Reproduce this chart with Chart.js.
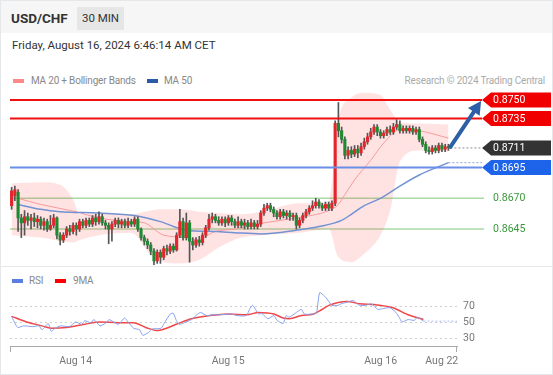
<!DOCTYPE html>
<html>
<head>
<meta charset="utf-8">
<script src="https://cdn.jsdelivr.net/npm/chart.js@4.4.1/dist/chart.umd.min.js"></script>
<style>
  html, body { margin: 0; padding: 0; background: #fff; }
  body { width: 553px; height: 375px; position: relative; overflow: hidden; font-family: Roboto, "Liberation Sans", Arial, sans-serif; }
  #frame { position: absolute; left: 0; top: 0; width: 551px; height: 373px; border: 1px solid #e4e8ea; }
  #header { position: absolute; left: 1px; top: 1px; width: 551px; height: 32px; background: #f6f6f6; }
  #pair { position: absolute; left: 11px; top: 10px; font-size: 13.5px; font-weight: bold; color: #333; }
  #tf { position: absolute; left: 77px; top: 7px; width: 47px; height: 23px; line-height: 23px; background: #e6e6e6; font-size: 11.5px; text-align: center; color: #333; }
  #date { position: absolute; left: 12px; top: 38px; font-size: 11.5px; color: #333; }
  .leg { position: absolute; font-size: 10px; letter-spacing: -0.2px; color: #888; line-height: 12px; }
  .sw { position: absolute; width: 11px; height: 4px; }
  #credit { position: absolute; right: 8px; top: 75px; font-size: 10px; letter-spacing: -0.2px; color: #aaa; line-height: 12px; }
  #sep { position: absolute; left: 1px; top: 266px; width: 551px; height: 1px; background: #e8e8e8; }
  canvas { position: absolute; left: 0; }
  #main { top: 88px; }
  #rsi { top: 284px; }
</style>
</head>
<body>
<div id="frame"></div>
<div id="header"></div>
<div id="pair">USD/CHF</div>
<div id="tf">30 MIN</div>
<div id="date">Friday, August 16, 2024 6:46:14 AM CET</div>

<div class="sw" style="left:13px; top:79px; background:#f88;"></div>
<div class="leg" style="left:31px; top:75px;">MA 20 + Bollinger Bands</div>
<div class="sw" style="left:147px; top:79px; background:#2b5ba6;"></div>
<div class="leg" style="left:164px; top:75px;">MA 50</div>
<div id="credit">Research © 2024 Trading Central</div>

<canvas id="main" width="553" height="177"></canvas>
<div id="sep"></div>

<div class="sw" style="left:12px; top:279px; background:#5b7fe0;"></div>
<div class="leg" style="left:29px; top:275px;">RSI</div>
<div class="sw" style="left:55px; top:279px; background:#f00;"></div>
<div class="leg" style="left:73px; top:275px;">9MA</div>
<canvas id="rsi" width="553" height="88"></canvas>

<script>
/* ============================= */
/*      DATA                     */
/* ============================= */
const opens = [
  .8664,.8672,.8675,.8654,.8650,.8655,.8652,.8654,.8651,.8653,
  .8648,.8651,.8645,.8648,.8654,.8640,.8636,.8640,.8645,.8643,
  .8648,.8645,.8651,.8648,.8652,.8649,.8654,.8651,.8655,.8650,
  .8648,.8645,.8649,.8652,.8649,.8651,.8648,.8651,.8649,.8653,
  .8645,.8638,.8635,.8632,.8627,.8619,.8626,.8622,.8629,.8627,
  .8631,.8628,.8640,.8651,.8638,.8650,.8635,.8632,.8636,.8634,
  .8640,.8646,.8653,.8655,.8652,.8650,.8653,.8650,.8654,.8651,
  .8648,.8651,.8648,.8650,.8647,.8650,.8647,.8649,.8658,.8662,
  .8664,.8661,.8658,.8655,.8659,.8656,.8658,.8655,.8656,.8648,
  .8652,.8656,.8659,.8662,.8664,.8667,.8664,.8662,.8665,.8662,
  .8666,.8731,.8725,.8718,.8705,.8709,.8706,.8710,.8707,.8712,
  .8716,.8720,.8724,.8728,.8724,.8721,.8723,.8726,.8724,.8728,
  .8730,.8725,.8727,.8725,.8727,.8724,.8726,.8718,.8714,.8709,
  .8708,.8711,.8709,.8713,.8710,.8712
];
const closes = [
  .8676,.8677,.8654,.8650,.8655,.8652,.8654,.8651,.8653,.8648,
  .8651,.8645,.8648,.8654,.8640,.8636,.8640,.8645,.8643,.8648,
  .8645,.8651,.8648,.8652,.8649,.8654,.8651,.8655,.8650,.8648,
  .8645,.8649,.8652,.8649,.8651,.8648,.8651,.8649,.8653,.8645,
  .8638,.8635,.8632,.8627,.8619,.8626,.8622,.8629,.8627,.8631,
  .8628,.8640,.8651,.8638,.8650,.8635,.8632,.8636,.8634,.8640,
  .8646,.8653,.8655,.8652,.8650,.8653,.8650,.8654,.8651,.8648,
  .8651,.8648,.8650,.8647,.8650,.8647,.8649,.8658,.8662,.8664,
  .8661,.8658,.8655,.8659,.8656,.8658,.8655,.8656,.8648,.8652,
  .8656,.8659,.8662,.8664,.8667,.8664,.8662,.8665,.8662,.8666,
  .8731,.8725,.8718,.8705,.8709,.8706,.8710,.8707,.8712,.8716,
  .8720,.8724,.8728,.8724,.8721,.8723,.8726,.8724,.8728,.8730,
  .8725,.8727,.8725,.8727,.8724,.8726,.8718,.8714,.8709,.8708,
  .8711,.8709,.8713,.8710,.8712,.8711
];
const highs = [
  .8679,.8680,.8677,.8657,.8660,.8658,.8657,.8658,.8656,.8655,
  .8654,.8653,.8656,.8657,.8655,.8642,.8642,.8647,.8648,.8650,
  .8650,.8653,.8653,.8654,.8654,.8656,.8657,.8659,.8657,.8652,
  .8650,.8651,.8654,.8654,.8653,.8653,.8654,.8653,.8655,.8655,
  .8646,.8640,.8637,.8634,.8629,.8628,.8628,.8631,.8632,.8633,
  .8633,.8642,.8661,.8654,.8658,.8652,.8638,.8638,.8639,.8642,
  .8648,.8657,.8658,.8657,.8655,.8655,.8655,.8656,.8656,.8653,
  .8655,.8653,.8653,.8652,.8653,.8652,.8652,.8660,.8665,.8666,
  .8666,.8663,.8660,.8661,.8661,.8660,.8660,.8658,.8658,.8654,
  .8658,.8661,.8664,.8668,.8670,.8669,.8666,.8667,.8667,.8668,
  .8733,.8748,.8728,.8720,.8712,.8712,.8713,.8713,.8715,.8719,
  .8723,.8727,.8730,.8730,.8726,.8725,.8728,.8729,.8731,.8734,
  .8733,.8729,.8729,.8729,.8729,.8728,.8728,.8720,.8716,.8712,
  .8713,.8713,.8715,.8715,.8714,.8714
];
const lows = [
  .8661,.8668,.8643,.8638,.8640,.8648,.8645,.8647,.8646,.8645,
  .8644,.8643,.8644,.8646,.8637,.8632,.8634,.8638,.8640,.8641,
  .8640,.8643,.8646,.8646,.8647,.8647,.8648,.8649,.8648,.8645,
  .8633,.8635,.8647,.8646,.8646,.8646,.8646,.8647,.8647,.8643,
  .8636,.8632,.8629,.8624,.8616,.8617,.8617,.8620,.8624,.8625,
  .8626,.8627,.8638,.8636,.8636,.8618,.8628,.8630,.8631,.8632,
  .8638,.8644,.8650,.8650,.8648,.8648,.8647,.8648,.8648,.8646,
  .8646,.8646,.8645,.8645,.8645,.8645,.8645,.8647,.8656,.8660,
  .8659,.8655,.8653,.8653,.8654,.8653,.8652,.8652,.8645,.8646,
  .8650,.8654,.8657,.8660,.8662,.8662,.8660,.8660,.8660,.8660,
  .8664,.8720,.8715,.8702,.8702,.8703,.8704,.8703,.8705,.8710,
  .8714,.8718,.8722,.8721,.8719,.8719,.8721,.8722,.8722,.8726,
  .8723,.8723,.8723,.8723,.8722,.8722,.8716,.8712,.8707,.8706,
  .8706,.8707,.8707,.8708,.8708,.8709
];

// moving averages and bands, read at a few candle positions
const ma20Index  = [2, 9, 20, 27, 37, 41, 47, 54, 57, 63, 69, 78, 88, 98, 101, 103, 106, 111, 115, 120, 126, 135];
const ma20Values = [.8670,.8665,.8659,.8654,.8651,.8650,.8640,.8638,.8636,.8643,.8645,.8650,.8654,.8660,.8665,.8673,.8685,.8701,.8715,.8726,.8725,.8719];
const ma50Index  = [2, 9, 15, 27, 38, 46, 54, 63, 69, 77, 88, 95, 102, 105, 109, 114, 120, 126, 135];
const ma50Values = [.8665,.8661,.8659,.8658,.8656,.8651,.8644,.8643,.8642,.8641,.8644,.8647,.8652,.8657,.8664,.8670,.8680,.8689,.8699];
const bandIndex  = [0, 9, 15, 19, 21, 27, 37, 43, 46, 52, 58, 64, 71, 77, 89, 98, 101, 105, 109, 114, 117, 120, 126, 135];
const bandUpper  = [.8682,.8683,.8681,.8669,.8657,.8658,.8657,.8660,.8661,.8661,.8659,.8658,.8657,.8659,.8666,.8667,.8734,.8752,.8756,.8754,.8742,.8732,.8731,.8730];
const bandLower  = [.8640,.8638,.8635,.8634,.8636,.8640,.8642,.8624,.8619,.8617,.8620,.8630,.8638,.8640,.8642,.8645,.8622,.8618,.8625,.8640,.8660,.8700,.8709,.8708];

// key levels
const resistanceLevels = [0.8750, 0.8735];
const pivotLevel = 0.8695;
const supportLevels = [0.8670, 0.8645];
const lastPrice = 0.8711;
const targetLevel = 0.8750;

// RSI panel
const rsiIndex  = [0,2,4,7,9,10,12,13,14,16,19,21,23,24,26,27,29,31,32,35,37,38,40,42,43,45,46,49,50,52,53,54,55,56,59,61,62,64,66,68,72,74,77,78,79,81,82,84,86,87,89,90,91,93,95,96,99,100,101,103,105,107,108,110,112,114,116,118,120,122,124,126,127,128,130,132,133,135];
const rsiValues = [57,43,45,44,45,40,48,38,41,45,44,50,47,51.5,49,53,45,49,53,47,55,51,42,40,33,37,41,42,48,60,61,52,47,48,53,60,62,58,59,59,60,58,58,66,71,60,61,54,58,52,48,58,56,61,66,60,60,62,87,81,71,71,73,75,77,71,71,73,66,67,68,62,56,50,53,52,56,51];
const rsiMaIndex  = [0,5,10,13,18,24,29,35,40,44,48,50,54,59,65,71,77,81,86,89,91,95,99,101,104,110,114,119,125,130,135];
const rsiMaValues = [57,50,45,42,43,47,50,49,49,43,39,41,47,54,58,60,59,62,60,55,54,58,60,64,71,76,73,72,68,59,53];
const rsiTicks = [30, 50, 70];

const dateTickIndex = [21, 71, 121, 141];
const dateLabels = ['Aug 14', 'Aug 15', 'Aug 16', 'Aug 22'];

/* ============================= */
/*      SHARED SETTINGS          */
/* ============================= */
const xMin = -0.5;
const xMax = 146;
const levelEnd = 145.4;          // where level lines stop and tags begin
const lastIndex = closes.length - 1;

const UP = '#e3262b';
const DOWN = '#1f8a32';
const FONT = 'Roboto, "Liberation Sans", Arial, sans-serif';

const toPoints = (xs, ys) => xs.map((x, k) => ({ x: x, y: ys[k] }));

/* ============================= */
/*      MAIN PRICE CHART         */
/* ============================= */
const bodies = opens.map((o, i) => ({ x: i, y: [o, closes[i]] }));
const wicks = lows.map((l, i) => ({ x: i, y: [l, highs[i]] }));

function drawTag(ctx, xTip, y, color, text) {
    const h = 15;
    ctx.fillStyle = color;
    ctx.beginPath();
    ctx.moveTo(xTip, y);
    ctx.lineTo(xTip + 9, y - h / 2);
    ctx.lineTo(551, y - h / 2);
    ctx.lineTo(551, y + h / 2);
    ctx.lineTo(xTip + 9, y + h / 2);
    ctx.closePath();
    ctx.fill();
    ctx.fillStyle = '#fff';
    ctx.font = '10.5px ' + FONT;
    ctx.textBaseline = 'middle';
    ctx.textAlign = 'left';
    ctx.fillText(text, xTip + 11, y + 0.5);
}

const levelsPlugin = {
    id: 'levels',
    beforeDatasetsDraw(chart) {
        const ctx = chart.ctx;
        const xs = chart.scales.x, ys = chart.scales.y;
        const left = chart.chartArea.left;
        const right = xs.getPixelForValue(levelEnd);
        ctx.save();
        supportLevels.forEach(v => {
            const y = ys.getPixelForValue(v);
            ctx.strokeStyle = '#a9d9a4';
            ctx.lineWidth = 1.5;
            ctx.beginPath(); ctx.moveTo(left, y); ctx.lineTo(right + 2, y); ctx.stroke();
        });
        ctx.restore();
    },
    afterDatasetsDraw(chart) {
        const ctx = chart.ctx;
        const xs = chart.scales.x, ys = chart.scales.y;
        const left = chart.chartArea.left;
        const right = xs.getPixelForValue(levelEnd);
        ctx.save();

        // resistance lines
        resistanceLevels.forEach(v => {
            const y = ys.getPixelForValue(v);
            ctx.strokeStyle = '#f01010';
            ctx.lineWidth = 2;
            ctx.beginPath(); ctx.moveTo(left, y); ctx.lineTo(right, y); ctx.stroke();
        });
        // pivot line
        const yp = ys.getPixelForValue(pivotLevel);
        ctx.strokeStyle = '#6b8ee6';
        ctx.lineWidth = 2;
        ctx.beginPath(); ctx.moveTo(left, yp); ctx.lineTo(right, yp); ctx.stroke();

        // last price dotted
        const yl = ys.getPixelForValue(lastPrice);
        ctx.strokeStyle = '#888';
        ctx.lineWidth = 1;
        ctx.setLineDash([2, 2]);
        ctx.beginPath(); ctx.moveTo(xs.getPixelForValue(lastIndex) + 2, yl); ctx.lineTo(right, yl); ctx.stroke();
        ctx.setLineDash([]);

        // tags
        resistanceLevels.forEach(v => drawTag(ctx, right, ys.getPixelForValue(v), '#f00000', v.toFixed(4)));
        drawTag(ctx, right, yl, '#333333', lastPrice.toFixed(4));
        drawTag(ctx, right, yp, '#1d64ea', pivotLevel.toFixed(4));

        // support labels
        ctx.fillStyle = '#3a993a';
        ctx.font = '10.5px ' + FONT;
        ctx.textBaseline = 'middle';
        supportLevels.forEach(v => ctx.fillText(v.toFixed(4), right + 11, ys.getPixelForValue(v) + 0.5));

        // arrow to target
        const x0 = xs.getPixelForValue(lastIndex) + 2, y0 = yl - 1;
        const x1 = right - 1, y1 = ys.getPixelForValue(targetLevel) + 1;
        const ang = Math.atan2(y1 - y0, x1 - x0);
        const hl = 13, hw = 7;
        const bx = x1 - hl * Math.cos(ang), by = y1 - hl * Math.sin(ang);
        ctx.strokeStyle = '#2d5ea8';
        ctx.fillStyle = '#2d5ea8';
        ctx.lineWidth = 4;
        ctx.lineCap = 'round';
        ctx.beginPath(); ctx.moveTo(x0, y0); ctx.lineTo(bx, by); ctx.stroke();
        ctx.beginPath();
        ctx.moveTo(x1, y1);
        ctx.lineTo(bx + hw * Math.sin(ang), by - hw * Math.cos(ang));
        ctx.lineTo(bx - hw * Math.sin(ang), by + hw * Math.cos(ang));
        ctx.closePath();
        ctx.fill();
        ctx.restore();
    }
};

new Chart(document.getElementById('main'), {
    type: 'bar',
    data: {
        datasets: [
            {
                type: 'line', data: toPoints(bandIndex, bandUpper),
                borderWidth: 0, pointRadius: 0, fill: '+1',
                backgroundColor: 'rgba(255, 70, 70, 0.15)',
                cubicInterpolationMode: 'monotone', order: 10
            },
            {
                type: 'line', data: toPoints(bandIndex, bandLower),
                borderWidth: 0, pointRadius: 0, fill: false,
                cubicInterpolationMode: 'monotone', order: 9
            },
            {
                type: 'line', data: toPoints(ma20Index, ma20Values),
                borderColor: '#f79a9a', borderWidth: 1, pointRadius: 0,
                cubicInterpolationMode: 'monotone', order: 5
            },
            {
                type: 'line', data: toPoints(ma50Index, ma50Values),
                borderColor: '#7292d2', borderWidth: 1.5, pointRadius: 0,
                cubicInterpolationMode: 'monotone', order: 4
            },
            {
                type: 'line',
                data: [{ x: lastIndex, y: ma50Values[ma50Values.length - 1] }, { x: levelEnd, y: ma50Values[ma50Values.length - 1] }],
                borderColor: '#8aa3dc', borderWidth: 1, borderDash: [2, 2], pointRadius: 0, order: 4
            },
            {
                data: wicks, backgroundColor: '#555', barThickness: 1,
                grouped: false, borderWidth: 0, order: 2
            },
            {
                data: bodies,
                backgroundColor: c => (c.raw && c.raw.y[1] >= c.raw.y[0]) ? UP : DOWN,
                barThickness: 2.5, minBarLength: 1,
                grouped: false, borderWidth: 0, order: 1
            }
        ]
    },
    options: {
        responsive: false,
        animation: false,
        devicePixelRatio: 1,
        layout: { autoPadding: false, padding: { left: 10, right: 69, top: 0, bottom: 0 } },
        plugins: { legend: { display: false }, tooltip: { enabled: false } },
        scales: {
            x: { type: 'linear', min: xMin, max: xMax, offset: false, display: false },
            y: { min: 0.86157, max: 0.87598, display: false }
        }
    },
    plugins: [levelsPlugin]
});

/* ============================= */
/*      RSI PANEL                */
/* ============================= */
// dotted level lines, their labels and the bracket ends of the time axis
const rsiFrame = {
    id: 'rsiFrame',
    beforeDatasetsDraw(chart) {
        const ctx = chart.ctx, a = chart.chartArea, ys = chart.scales.y;
        ctx.save();
        ctx.strokeStyle = '#cfcfcf';
        ctx.lineWidth = 1;
        ctx.setLineDash([2, 3]);
        rsiTicks.forEach(v => {
            const y = Math.round(ys.getPixelForValue(v)) + 0.5;
            ctx.beginPath(); ctx.moveTo(a.left, y); ctx.lineTo(a.right, y); ctx.stroke();
        });
        ctx.setLineDash([]);
        ctx.fillStyle = '#777';
        ctx.font = '10.5px ' + FONT;
        ctx.textBaseline = 'middle';
        ctx.textAlign = 'left';
        rsiTicks.forEach(v => ctx.fillText(String(v), a.right + 6, ys.getPixelForValue(v) + 0.5));
        ctx.restore();
    },
    afterDraw(chart) {
        const ctx = chart.ctx, a = chart.chartArea;
        ctx.save();
        ctx.strokeStyle = '#aaa';
        ctx.lineWidth = 1;
        ctx.beginPath();
        ctx.moveTo(a.left + 0.5, a.bottom); ctx.lineTo(a.left + 0.5, a.bottom + 6);
        ctx.moveTo(a.right - 0.5, a.bottom); ctx.lineTo(a.right - 0.5, a.bottom + 6);
        ctx.stroke();
        ctx.restore();
    }
};

const lastRsi = rsiValues[rsiValues.length - 1];

new Chart(document.getElementById('rsi'), {
    type: 'line',
    data: {
        datasets: [
            {
                data: toPoints(rsiIndex, rsiValues),
                borderColor: '#86a2f0', borderWidth: 1, pointRadius: 0, tension: 0.2
            },
            {
                data: toPoints(rsiMaIndex, rsiMaValues),
                borderColor: '#f04848', borderWidth: 1.5, pointRadius: 0,
                cubicInterpolationMode: 'monotone'
            },
            {
                data: [{ x: lastIndex, y: lastRsi }, { x: xMax, y: lastRsi }],
                borderColor: '#a9bcef', borderWidth: 1, borderDash: [2, 2], pointRadius: 0
            }
        ]
    },
    options: {
        responsive: false,
        animation: false,
        devicePixelRatio: 1,
        layout: { autoPadding: false, padding: { left: 10, right: 96, top: 2, bottom: 0 } },
        plugins: { legend: { display: false }, tooltip: { enabled: false } },
        scales: {
            x: {
                type: 'linear', min: xMin, max: xMax, offset: false,
                grid: { display: false, drawTicks: false },
                border: { display: true, color: '#aaa' },
                afterBuildTicks: s => { s.ticks = dateTickIndex.map(v => ({ value: v })); },
                afterFit: s => { s.height = 26; },
                ticks: {
                    padding: 9, color: '#777', maxRotation: 0, autoSkip: false,
                    font: { size: 10.5, family: FONT },
                    callback: v => dateLabels[dateTickIndex.indexOf(v)]
                }
            },
            y: { min: 19.5, max: 95.5, display: false }
        }
    },
    plugins: [rsiFrame]
});
</script>
</body>
</html>
